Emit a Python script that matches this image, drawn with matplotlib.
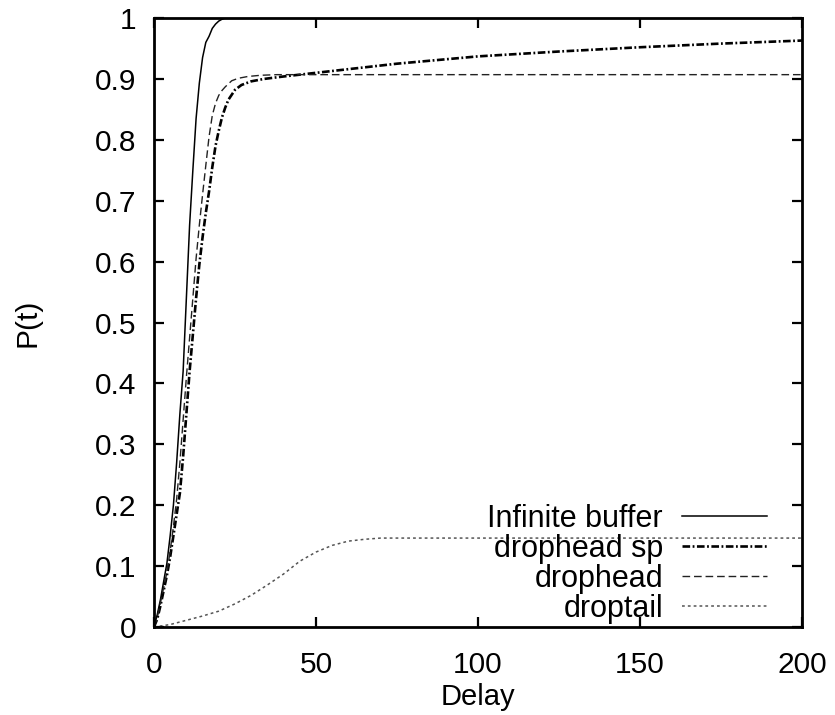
import matplotlib
matplotlib.use('Agg')
from matplotlib import pyplot as plt

plt.rcParams['font.family'] = ['Liberation Sans', 'DejaVu Sans']
plt.rcParams['lines.scale_dashes'] = False

# CDF of packet delay for each buffer policy
inf_x = [0, 1, 2, 3, 4, 5, 6, 7, 8, 9, 10, 11, 12, 13, 14, 15, 16, 17, 18, 19, 20, 21, 22, 25, 200]
inf_y = [0, 0.02, 0.045, 0.075, 0.105, 0.15, 0.2, 0.27, 0.35, 0.42, 0.54, 0.66, 0.75, 0.835, 0.893,
         0.935, 0.96, 0.97, 0.983, 0.99, 0.995, 0.998, 1.0, 1.0, 1.0]

dhsp_x = [0, 1, 2, 3, 4, 5, 6, 7, 8, 9, 10, 11, 12, 13, 14, 15, 16, 17, 18, 19, 20, 21, 22, 23,
          25, 27, 30, 34, 40, 45, 50, 60, 75, 100, 125, 150, 175, 200]
dhsp_y = [0, 0.013, 0.035, 0.06, 0.085, 0.115, 0.15, 0.185, 0.22, 0.28, 0.35, 0.42, 0.48, 0.54,
          0.595, 0.64, 0.68, 0.715, 0.755, 0.79, 0.815, 0.837, 0.853, 0.866, 0.882, 0.89, 0.896,
          0.9, 0.904, 0.907, 0.91, 0.916, 0.925, 0.937, 0.945, 0.952, 0.958, 0.963]

dh_x = [0, 1, 2, 3, 4, 5, 6, 7, 8, 9, 10, 11, 12, 13, 14, 15, 16, 17, 18, 19, 20, 21, 22,
        24, 26, 29, 33, 38, 200]
dh_y = [0, 0.015, 0.04, 0.065, 0.09, 0.125, 0.165, 0.21, 0.27, 0.34, 0.41, 0.475, 0.54, 0.605,
        0.66, 0.71, 0.758, 0.805, 0.84, 0.86, 0.873, 0.881, 0.887, 0.897, 0.901, 0.904, 0.906,
        0.907, 0.907]

dt_x = [0, 5, 10, 15, 20, 25, 30, 35, 40, 45, 50, 55, 60, 65, 70, 200]
dt_y = [0, 0.004, 0.011, 0.018, 0.026, 0.038, 0.052, 0.069, 0.087, 0.108, 0.123, 0.134, 0.141,
        0.144, 0.146, 0.146]

x_ticks = [0, 50, 100, 150, 200]
y_ticks = [0, 0.1, 0.2, 0.3, 0.4, 0.5, 0.6, 0.7, 0.8, 0.9, 1]
y_tick_labels = ['0', '0.1', '0.2', '0.3', '0.4', '0.5', '0.6', '0.7', '0.8', '0.9', '1']


def main(fname='out.png'):
    fig = plt.figure(figsize=(8.35, 7.15), dpi=100)
    ax = fig.add_axes([0.1844, 0.1231, 0.776, 0.8517])

    ax.plot(inf_x, inf_y, color='k', lw=1.1, label='Infinite buffer')
    ax.plot(dhsp_x, dhsp_y, color='k', lw=1.9, dashes=(5.5, 1.8, 1.3, 1.8), label='drophead sp')
    ax.plot(dh_x, dh_y, color='#222222', lw=1.0, dashes=(5.5, 2.8), label='drophead')
    ax.plot(dt_x, dt_y, color='#555555', lw=1.1, dashes=(2.0, 2.2), label='droptail')

    ax.set_xlim(0, 200)
    ax.set_ylim(0, 1)
    ax.set_xticks(x_ticks)
    ax.set_yticks(y_ticks)
    ax.set_yticklabels(y_tick_labels)
    ax.tick_params(direction='in', length=7, width=1.6, top=True, right=True, labelsize=21.5)
    ax.tick_params(axis='x', pad=17)
    ax.tick_params(axis='y', pad=13)
    for sp in ax.spines.values():
        sp.set_linewidth(2.0)

    ax.set_xlabel('Delay', fontsize=21, labelpad=3)
    ax.set_ylabel('P(t)', fontsize=21.5, labelpad=38)

    ax.legend(loc='lower right', bbox_to_anchor=(0.946, 0.0055), frameon=False, markerfirst=False,
              fontsize=22, handlelength=2.78, handletextpad=0.62, labelspacing=0.0,
              borderpad=0, borderaxespad=0)

    fig.savefig(fname, dpi=100)


if __name__ == '__main__':
    main()
